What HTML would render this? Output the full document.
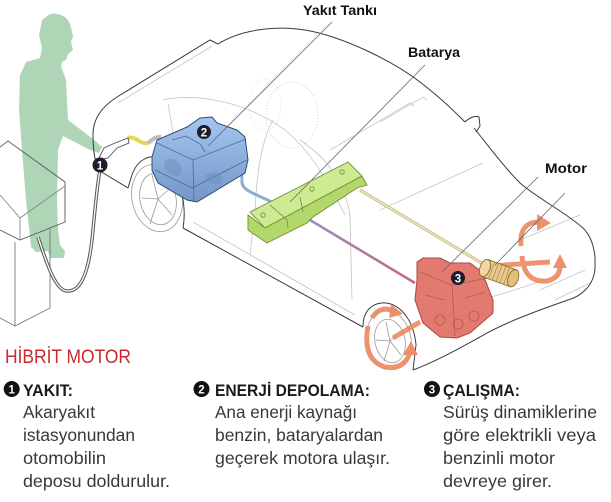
<!DOCTYPE html>
<html>
<head>
<meta charset="utf-8">
<style>
html,body{margin:0;padding:0;background:#fff;}
svg{display:block;}
</style>
</head>
<body>
<svg width="611" height="502" viewBox="0 0 611 502" xmlns="http://www.w3.org/2000/svg" font-family="'Liberation Sans', sans-serif">
<defs>
  <linearGradient id="tankG" x1="0" y1="0" x2="0" y2="1">
    <stop offset="0" stop-color="#a4c6ee"/>
    <stop offset="1" stop-color="#7496c8"/>
  </linearGradient>
  <linearGradient id="rodP" x1="0" y1="0" x2="1" y2="0">
    <stop offset="0" stop-color="#9d8fbf"/>
    <stop offset="1" stop-color="#c46a78"/>
  </linearGradient>
</defs>
<rect width="611" height="502" fill="#fff"/>

<!-- person silhouette -->
<path d="M50,14 C60,12 70,18 71,28 L73,36 L71,42 L73,50 L68,54 L66,60 L62,62 L61,66 L66,80 L68,120 L93,139 L102,147 L99,153 L90,150 L63,136 L58,150 L57,200 L58,230 L60,245 L65,251 L64,258 L50,258 L48,251 L36,252 L31,247 L26,200 L22,150 L19,110 L20,75 L26,62 L40,58 L42,48 L39,35 L42,20 Z" fill="#aed6b6"/>

<!-- pump -->
<g fill="none" stroke="#555" stroke-width="0.9">
  <path d="M0,147 L8,141 L65,182 L65,222 L20,240 L0,230"/>
  <path d="M0,195 L20,218 L65,186" stroke="#888"/>
  <path d="M20,218 L20,240" stroke="#888"/>
  <path d="M15,242 L15,326 M50,228 L50,308 L15,326 L0,318" stroke="#777"/>
</g>

<!-- pump hose -->
<path d="M38,237 C45,258 55,291 67,291 C80,292 88,275 92,240 C95,210 97,185 100,170" fill="none" stroke="#555" stroke-width="3.4"/>
<path d="M38,237 C45,258 55,291 67,291 C80,292 88,275 92,240 C95,210 97,185 100,170" fill="none" stroke="#f4f4f4" stroke-width="1.4"/>

<!-- car inner light lines -->
<g fill="none" stroke="#c4c4c4" stroke-width="0.8">
  <path d="M163,100 C200,92 250,104 285,130 C310,150 330,185 345,215"/>
  <path d="M168,104 C172,125 176,150 180,172"/>
  <path d="M273,120 C262,140 257,170 255,210 L250,255"/>
  <path d="M330,150 L410,103 L414,106"/>
  <path d="M380,122 L423,97 L427,100"/>
  <path d="M380,210 L483,163"/>
  <path d="M355,315 L193,222"/>
  <path d="M300,140 C330,160 345,185 350,215 L352,300"/>
  <path d="M520,240 L580,215 M540,290 L585,270 M555,300 L592,282"/>
  <path d="M480,300 C500,295 530,285 560,275"/>
  <path d="M118,103 L212,46"/>
</g>
<ellipse cx="292" cy="115" rx="26" ry="33" fill="none" stroke="#dcdcb4" stroke-width="1.2" stroke-dasharray="1 2"/>
<ellipse cx="265" cy="105" rx="16" ry="26" fill="none" stroke="#e2e2c4" stroke-width="1" stroke-dasharray="1 2"/>

<!-- wheels -->
<g fill="none" stroke="#9a9a9a" stroke-width="0.8">
  <ellipse cx="157" cy="198" rx="25" ry="34" transform="rotate(-12 157 198)"/>
  <ellipse cx="158" cy="199" rx="18" ry="26" transform="rotate(-12 158 199)"/>
  <path d="M158,199 L152,175 M158,199 L174,185 M158,199 L172,215 M158,199 L150,224 M158,199 L142,198"/>
  <ellipse cx="389" cy="340" rx="22" ry="30" transform="rotate(-12 389 340)"/>
  <ellipse cx="390" cy="341" rx="15" ry="22" transform="rotate(-12 390 341)"/>
  <path d="M390,341 L386,322 M390,341 L402,330 M390,341 L401,355 M390,341 L384,361 M390,341 L376,340"/>
</g>

<!-- car outline -->
<g fill="none" stroke="#3a3a3a" stroke-width="1">
  <path d="M117,97 L210,40 L218,44 C240,30 275,25 305,30 C340,36 395,60 430,90 C445,102 455,112 465,122"/>
  <path d="M465,122 C469,118 475,115 479,117 L480,126 L476,132"/>
  <path d="M474,128 C490,148 505,168 520,183 C540,200 565,212 583,228 C590,235 594,245 595,258 L595,268 C594,285 582,296 568,300 C545,308 505,322 480,337 C460,348 435,362 413,370"/>
  <path d="M363,327 C363,310 373,302 386,303 C402,305 414,322 416,345 L413,370"/>
  <path d="M363,327 L183,228"/>
  <path d="M183,228 C187,205 180,172 163,160 C150,152 136,160 131,178 L128,188"/>
  <path d="M128,188 L100,171 C95,165 93,150 93,135 C93,120 100,108 117,97"/>
</g>

<!-- nozzle + hoses -->
<path d="M128,138 C135,135 140,145 148,143" fill="none" stroke="#e2da4a" stroke-width="4"/>
<path d="M148,143 C152,140 156,136 161,137" fill="none" stroke="#bcbcbc" stroke-width="4"/>
<path d="M98,160 L104,148 L115,143 L128,138 L129,143 L117,148 L108,158 Z" fill="#fff" stroke="#555" stroke-width="0.9"/>

<!-- blue pipe -->
<path d="M232,157 C240,160 242,170 242,183 C243,190 250,192 283,207" fill="none" stroke="#8eafcf" stroke-width="3"/>

<!-- fuel tank -->
<path d="M152,157 L157,140 L187,127 L200,118 L212,117 L217,123 L237,130 L245,137 L248,160 L245,173 L197,202 L187,200 L158,183 L152,170 Z" fill="url(#tankG)" stroke="#2d4c72" stroke-width="1"/>
<g fill="none" stroke="#4a6a92" stroke-width="0.8">
  <path d="M157,143 L193,160 L246,139"/>
  <path d="M193,160 L194,201"/>
  <path d="M155,170 L192,188 L247,160"/>
  <path d="M172,140 L186,136 L200,144 L205,152"/>
</g>
<path d="M165,160 C175,155 185,165 180,175 C172,178 162,172 165,160 Z M205,175 C215,170 225,172 222,182 C214,186 206,184 205,175 Z" fill="#6f93c0" opacity="0.6"/>

<!-- rods -->
<path d="M310,220 L415,283" stroke="url(#rodP)" stroke-width="2.6" fill="none"/>
<path d="M360,190 L485,265" stroke="#c9c08c" stroke-width="3.2" fill="none"/>
<path d="M360,190 L485,265" stroke="#f2ecc6" stroke-width="1.2" fill="none"/>

<!-- battery -->
<path d="M250,212 L348,162 L362,176 L265,228 Z" fill="#cdeb92" stroke="#6f8f34" stroke-width="0.9"/>
<path d="M248,215 L265,228 L362,176 L367,185 L357,188 L313,217 L307,223 L267,243 L248,230 Z" fill="#b2d86c" stroke="#6f8f34" stroke-width="0.9"/>
<g fill="none" stroke="#6f8f34" stroke-width="0.8">
  <circle cx="263" cy="215" r="2.2"/>
  <circle cx="312" cy="189" r="2.2"/>
  <circle cx="342" cy="172" r="2.2"/>
  <path d="M270,205 L287,220 L288,228 M300,197 L303,212"/>
</g>

<!-- orange axles & arrows -->
<g fill="none" stroke="#ec8c64" stroke-width="5" opacity="0.92">
  <path d="M490,266 L550,262"/>
  <path d="M420,322 L393,338"/>
  <path d="M521,246 Q519,222 539,222"/>
  <path d="M522,256 Q524,283 547,281 Q560,278 560,266"/>
  <path d="M372,318 Q380,305 393,311"/>
  <path d="M368,326 Q362,360 385,367 Q405,370 410,352"/>
</g>
<g fill="#ec8c64" opacity="0.95">
  <polygon points="537,214 551,223 537,231"/>
  <polygon points="553,268 560,254 567,268"/>
  <polygon points="391,304 403,314 389,318"/>
  <polygon points="403,355 411,341 418,355"/>
</g>

<!-- engine -->
<path d="M417,262 L423,258 L440,258 L450,263 L470,263 L482,272 L493,300 L493,313 L470,333 L457,338 L440,337 L423,323 L415,300 L417,280 Z" fill="#e27a70" stroke="#a84840" stroke-width="1"/>
<g fill="none" stroke="#b35a50" stroke-width="0.8">
  <path d="M420,272 L452,285 L488,278"/>
  <path d="M452,285 L455,336"/>
  <circle cx="440" cy="320" r="5"/>
  <circle cx="458" cy="324" r="5"/>
  <circle cx="474" cy="316" r="5"/>
  <path d="M425,295 L445,300 M465,298 L485,292"/>
</g>

<!-- motor cylinder -->
<g transform="translate(485,268) rotate(20)">
  <rect x="0" y="-9" width="30" height="18" fill="#e9c98e" stroke="#8a6a2a" stroke-width="0.9"/>
  <ellipse cx="30" cy="0" rx="5" ry="9" fill="#e2bd7c" stroke="#8a6a2a" stroke-width="0.9"/>
  <ellipse cx="0" cy="0" rx="5" ry="9" fill="#f0d6a4" stroke="#8a6a2a" stroke-width="0.9"/>
  <path d="M7,-9 L7,9 M11,-9 L11,9 M15,-9 L15,9 M19,-9 L19,9 M23,-9 L23,9" stroke="#a8874a" stroke-width="0.7"/>
</g>

<!-- leader lines -->
<g stroke="#666" stroke-width="0.8" fill="none">
  <path d="M332,22 L208,146"/>
  <path d="M425,65 L290,202"/>
  <path d="M538,177 L442,272"/>
  <path d="M565,193 L495,265"/>
</g>

<!-- numbered markers -->
<g>
  <circle cx="100" cy="165" r="7.5" fill="#1c1c2c"/>
  <text x="100" y="169.5" font-size="11.5" font-weight="bold" fill="#fff" text-anchor="middle">1</text>
  <circle cx="204" cy="132" r="7" fill="#1c1c2c"/>
  <text x="204" y="136.5" font-size="11.5" font-weight="bold" fill="#fff" text-anchor="middle">2</text>
  <circle cx="458" cy="278" r="7" fill="#1c1c2c"/>
  <text x="458" y="282.5" font-size="11.5" font-weight="bold" fill="#fff" text-anchor="middle">3</text>
</g>

<!-- labels -->
<g font-weight="bold" fill="#111" font-size="14">
  <text x="303" y="15" textLength="74" lengthAdjust="spacingAndGlyphs">Yakıt Tankı</text>
  <text x="408" y="57" textLength="52" lengthAdjust="spacingAndGlyphs">Batarya</text>
  <text x="545" y="173" textLength="42" lengthAdjust="spacingAndGlyphs">Motor</text>
</g>

<!-- bottom title -->
<text x="5" y="363" font-size="19" fill="#c62a2f" textLength="126" lengthAdjust="spacingAndGlyphs">HİBRİT MOTOR</text>

<!-- headings -->
<g>
  <circle cx="11.7" cy="389" r="8" fill="#111"/>
  <text x="11.7" y="393.5" font-size="11.5" font-weight="bold" fill="#fff" text-anchor="middle">1</text>
  <text x="23" y="396" font-size="17" font-weight="bold" fill="#1a1a1a" textLength="50" lengthAdjust="spacingAndGlyphs">YAKIT:</text>

  <circle cx="201.5" cy="389" r="8" fill="#111"/>
  <text x="201.5" y="393.5" font-size="11.5" font-weight="bold" fill="#fff" text-anchor="middle">2</text>
  <text x="215" y="396" font-size="17" font-weight="bold" fill="#1a1a1a" textLength="155" lengthAdjust="spacingAndGlyphs">ENERJİ DEPOLAMA:</text>

  <circle cx="432" cy="389" r="8" fill="#111"/>
  <text x="432" y="393.5" font-size="11.5" font-weight="bold" fill="#fff" text-anchor="middle">3</text>
  <text x="443" y="396" font-size="17" font-weight="bold" fill="#1a1a1a" textLength="77" lengthAdjust="spacingAndGlyphs">ÇALIŞMA:</text>
</g>

<!-- body text -->
<g font-size="17.5" fill="#383838">
  <text x="23" y="418" textLength="72" lengthAdjust="spacingAndGlyphs">Akaryakıt</text>
  <text x="23" y="441" textLength="112" lengthAdjust="spacingAndGlyphs">istasyonundan</text>
  <text x="23" y="464" textLength="83" lengthAdjust="spacingAndGlyphs">otomobilin</text>
  <text x="23" y="487" textLength="147" lengthAdjust="spacingAndGlyphs">deposu doldurulur.</text>

  <text x="215" y="418" textLength="142" lengthAdjust="spacingAndGlyphs">Ana enerji kaynağı</text>
  <text x="215" y="441" textLength="168" lengthAdjust="spacingAndGlyphs">benzin, bataryalardan</text>
  <text x="215" y="464" textLength="175" lengthAdjust="spacingAndGlyphs">geçerek motora ulaşır.</text>

  <text x="443" y="418" textLength="154" lengthAdjust="spacingAndGlyphs">Sürüş dinamiklerine</text>
  <text x="443" y="441" textLength="153" lengthAdjust="spacingAndGlyphs">göre elektrikli veya</text>
  <text x="443" y="464" textLength="112" lengthAdjust="spacingAndGlyphs">benzinli motor</text>
  <text x="443" y="487" textLength="109" lengthAdjust="spacingAndGlyphs">devreye girer.</text>
</g>
</svg>
</body>
</html>
